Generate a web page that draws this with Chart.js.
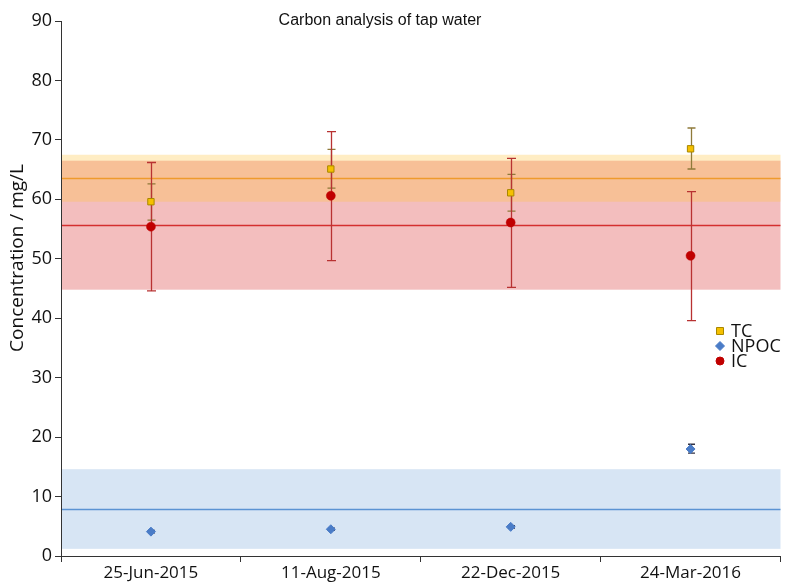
<!DOCTYPE html>
<html>
<head>
<meta charset="utf-8">
<script src="https://cdn.jsdelivr.net/npm/chart.js@4/dist/chart.umd.min.js"></script>
<style>
  html, body { margin: 0; padding: 0; background: #fff; }
  #wrap { width: 786px; height: 583px; }
</style>
</head>
<body>
<div id="wrap"><canvas id="chart" width="786" height="583"></canvas></div>
<script>
// data
const categories = ['25-Jun-2015', '11-Aug-2015', '22-Dec-2015', '24-Mar-2016'];
const yTicks = [0, 10, 20, 30, 40, 50, 60, 70, 80, 90];

const tcValues = [59.6, 65.1, 61.1, 68.5];
const tcLow = [56.5, 61.9, 58.0, 65.1];
const tcHigh = [62.6, 68.4, 64.2, 72.0];

const npocValues = [4.1, 4.5, 4.9, 18.0];
const npocLow = [3.9, 4.3, 4.7, 17.3];
const npocHigh = [4.3, 4.7, 5.1, 18.8];

const icValues = [55.4, 60.6, 56.1, 50.5];
const icLow = [44.6, 49.7, 45.2, 39.6];
const icHigh = [66.2, 71.4, 66.9, 61.3];

// [low, mean, high] of the shaded bands
const tcBand = [59.6, 63.55, 67.5];
const icBand = [44.8, 55.65, 66.5];
const npocBand = [1.2, 7.9, 14.6];

const tickFont = "'Open Sans', sans-serif";

const bandsPlugin = {
  id: 'bands',
  beforeDatasetsDraw(chart) {
    const { ctx, chartArea: a, scales: { x, y } } = chart;
    const band = (b, fill) => {
      const top = y.getPixelForValue(b[2]);
      const bot = y.getPixelForValue(b[0]);
      ctx.fillStyle = fill;
      ctx.fillRect(a.left + 1, top, a.right - a.left - 1, bot - top);
    };
    const mean = (b, color) => {
      const py = Math.round(y.getPixelForValue(b[1])) + 0.5;
      ctx.strokeStyle = color;
      ctx.lineWidth = 1.5;
      ctx.beginPath();
      ctx.moveTo(a.left + 1, py);
      ctx.lineTo(a.right, py);
      ctx.stroke();
    };
    ctx.save();
    band(icBand, 'rgba(215, 40, 40, 0.3)');
    band(tcBand, 'rgba(255, 195, 60, 0.3)');
    band(npocBand, 'rgba(110, 160, 215, 0.28)');
    mean(tcBand, '#ef9a2c');
    mean(icBand, '#d42f2f');
    mean(npocBand, '#5b93d3');

    const errBars = (low, high, color, cap) => {
      ctx.strokeStyle = color;
      ctx.lineWidth = 1.3;
      low.forEach((lo, i) => {
        const px = Math.round(x.getPixelForValue(i)) + 0.5;
        const p1 = y.getPixelForValue(lo);
        const p2 = y.getPixelForValue(high[i]);
        ctx.beginPath();
        ctx.moveTo(px, p1); ctx.lineTo(px, p2);
        ctx.moveTo(px - cap, p1); ctx.lineTo(px + cap, p1);
        ctx.moveTo(px - cap, p2); ctx.lineTo(px + cap, p2);
        ctx.stroke();
      });
    };
    errBars(tcLow, tcHigh, '#8f7a3a', 4);
    errBars(icLow, icHigh, '#b83232', 4.5);
    errBars(npocLow, npocHigh, '#333344', 3.5);
    ctx.restore();
  },
  afterDraw(chart) {
    const { ctx } = chart;
    ctx.save();
    // title
    ctx.fillStyle = '#111';
    ctx.font = "16px 'Liberation Sans', Arial, sans-serif";
    ctx.textAlign = 'center';
    ctx.textBaseline = 'middle';
    ctx.fillText('Carbon analysis of tap water', 380, 21);

    // y axis title, sits a bit above the middle of the axis
    ctx.save();
    ctx.translate(18, 258);
    ctx.rotate(-Math.PI / 2);
    ctx.font = "19px " + tickFont;
    ctx.fillText('Concentration / mg/L', 0, 0);
    ctx.restore();

    // legend
    const items = [
      { label: 'TC', style: 'rect', color: '#f5c000', border: '#a88700' },
      { label: 'NPOC', style: 'rectRot', color: '#4a7cc7', border: '#4a7cc7' },
      { label: 'IC', style: 'circle', color: '#c00000', border: '#c00000' }
    ];
    ctx.font = "18px " + tickFont;
    ctx.textAlign = 'left';
    items.forEach((it, i) => {
      const ly = 331 + i * 15;
      const lx = 720;
      ctx.fillStyle = it.color;
      ctx.strokeStyle = it.border;
      ctx.lineWidth = 1;
      ctx.beginPath();
      if (it.style === 'rect') {
        ctx.rect(lx - 3.5, ly - 3.5, 7, 7);
      } else if (it.style === 'rectRot') {
        ctx.moveTo(lx, ly - 4.5); ctx.lineTo(lx + 4.5, ly);
        ctx.lineTo(lx, ly + 4.5); ctx.lineTo(lx - 4.5, ly); ctx.closePath();
      } else {
        ctx.arc(lx, ly, 4, 0, Math.PI * 2);
      }
      ctx.fill();
      ctx.stroke();
      ctx.fillStyle = '#111';
      ctx.fillText(it.label, 731, ly + 1);
    });
    ctx.restore();
  }
};

new Chart(document.getElementById('chart'), {
  type: 'line',
  data: {
    labels: categories,
    datasets: [
      {
        label: 'TC', data: tcValues, showLine: false,
        pointStyle: 'rect', pointRadius: 4.5, pointBackgroundColor: '#f5c000',
        pointBorderColor: '#a88700', pointBorderWidth: 1
      },
      {
        label: 'NPOC', data: npocValues, showLine: false,
        pointStyle: 'rectRot', pointRadius: 4.5, pointBackgroundColor: '#4a7cc7',
        pointBorderColor: '#4a7cc7', pointBorderWidth: 1
      },
      {
        label: 'IC', data: icValues, showLine: false,
        pointStyle: 'circle', pointRadius: 4.5, pointBackgroundColor: '#c00000',
        pointBorderColor: '#c00000', pointBorderWidth: 0.5
      }
    ]
  },
  options: {
    responsive: false,
    animation: false,
    layout: { padding: { top: 21, right: 5, left: 0, bottom: 0 } },
    plugins: {
      legend: { display: false },
      tooltip: { enabled: false },
      title: { display: false }
    },
    scales: {
      x: {
        offset: true,
        grid: { offset: true, drawOnChartArea: false, tickLength: 6, color: '#333', lineWidth: 1 },
        border: { color: '#333', width: 1 },
        ticks: { color: '#111', font: { family: tickFont, size: 17 }, padding: 1, maxRotation: 0 },
        afterFit(scale) { scale.height = 27; }
      },
      y: {
        min: 0, max: 90,
        afterBuildTicks(scale) { scale.ticks = yTicks.map(v => ({ value: v })); },
        grid: { drawOnChartArea: false, tickLength: 6, color: '#333', lineWidth: 1 },
        border: { color: '#333', width: 1 },
        ticks: { color: '#111', font: { family: tickFont, size: 18 }, padding: 3 },
        afterFit(scale) { scale.width = 61; }
      }
    }
  },
  plugins: [bandsPlugin]
});
</script>
</body>
</html>
